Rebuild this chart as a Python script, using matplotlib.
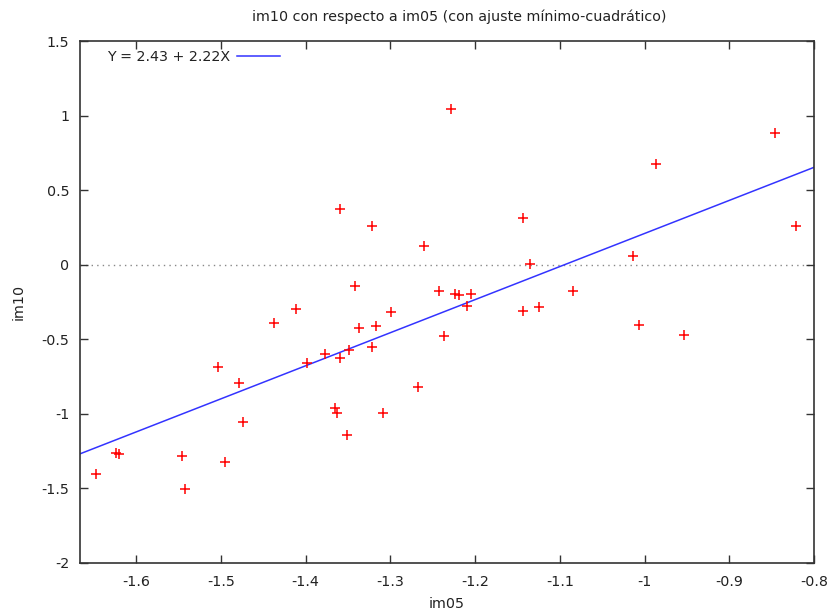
import numpy as np
import matplotlib
matplotlib.use("Agg")
import matplotlib.pyplot as plt

# im05 / im10 observations
im05 = [-1.647, -1.624, -1.620, -1.546, -1.543, -1.495, -1.504, -1.479, -1.474,
        -1.437, -1.411, -1.398, -1.377, -1.360, -1.322, -1.260, -1.342, -1.299,
        -1.337, -1.317, -1.243, -1.224, -1.219, -1.205, -1.210, -1.237, -1.322,
        -1.349, -1.359, -1.267, -1.365, -1.363, -1.309, -1.351, -1.228, -1.144,
        -1.135, -1.014, -1.085, -1.144, -1.125, -1.007, -0.986, -0.846, -0.821,
        -0.953]
im10 = [-1.404, -1.261, -1.270, -1.281, -1.503, -1.326, -0.688, -0.793, -1.055,
        -0.391, -0.295, -0.661, -0.597, 0.372, 0.258, 0.128, -0.144, -0.319,
        -0.422, -0.413, -0.176, -0.198, -0.205, -0.198, -0.274, -0.476, -0.554,
        -0.574, -0.628, -0.820, -0.959, -0.993, -0.993, -1.145, 1.046, 0.312,
        0.005, 0.057, -0.178, -0.310, -0.285, -0.406, 0.677, 0.887, 0.258,
        -0.469]

# least-squares fit coefficients
intercept = 2.43
slope = 2.22

x_ticks = [-1.6, -1.5, -1.4, -1.3, -1.2, -1.1, -1.0, -0.9, -0.8]
x_tick_labels = ["-1.6", "-1.5", "-1.4", "-1.3", "-1.2", "-1.1", "-1", "-0.9", "-0.8"]
y_ticks = [-2, -1.5, -1, -0.5, 0, 0.5, 1, 1.5]
y_tick_labels = ["-2", "-1.5", "-1", "-0.5", "0", "0.5", "1", "1.5"]

xmin, xmax = -1.666, -0.8
ymin, ymax = -2, 1.5

plt.rcParams['font.family'] = ['DejaVu Sans']
fig = plt.figure(figsize=(8.33, 6.14), dpi=100)
ax = fig.add_axes([80.3 / 833, 1 - 562.7 / 614, (814 - 80.3) / 833, (562.7 - 41.3) / 614])

frame_col = '#333333'
text_col = '#222222'
fs = 10.3

# zero reference line
ax.axhline(0, color='#888888', linestyle=(0, (1, 3)), linewidth=1.0, zorder=1)

# data points
ax.plot(im05, im10, linestyle='none', marker='+', color='#ff0000',
        markersize=7.5, markeredgewidth=1.1, zorder=3)

# fitted line
xs = np.array([xmin, xmax])
ax.plot(xs, intercept + slope * xs, color='#3333ff', linewidth=1.1, zorder=2)

ax.set_xlim(xmin, xmax)
ax.set_ylim(ymin, ymax)
ax.set_xticks(x_ticks)
ax.set_xticklabels(x_tick_labels)
ax.set_yticks(y_ticks)
ax.set_yticklabels(y_tick_labels)
ax.tick_params(direction='in', length=6, width=1, color=frame_col, labelcolor=text_col,
               labelsize=fs, top=True, right=True)
ax.tick_params(axis='x', pad=9)
ax.tick_params(axis='y', pad=8)
for s in ax.spines.values():
    s.set_color(frame_col)
    s.set_linewidth(1.2)

# key entry
fig.text(107 / 833, 1 - 57 / 614, "Y = %.2f + %.2fX" % (intercept, slope),
         ha='left', va='center', fontsize=fs, color=text_col)
fig.add_artist(plt.Line2D([237 / 833, 280 / 833], [1 - 56 / 614, 1 - 56 / 614],
                          color='#3333ff', linewidth=1.1))

fig.text(459 / 833, 1 - 17 / 614, "im10 con respecto a im05 (con ajuste mínimo-cuadrático)",
         ha='center', va='center', fontsize=fs, color=text_col)
fig.text(447 / 833, 1 - 604 / 614, "im05", ha='center', va='center', fontsize=fs, color=text_col)
fig.text(19 / 833, 1 - 302 / 614, "im10", ha='center', va='center', rotation=90,
         fontsize=fs, color=text_col)

fig.savefig("out.png", dpi=100)
